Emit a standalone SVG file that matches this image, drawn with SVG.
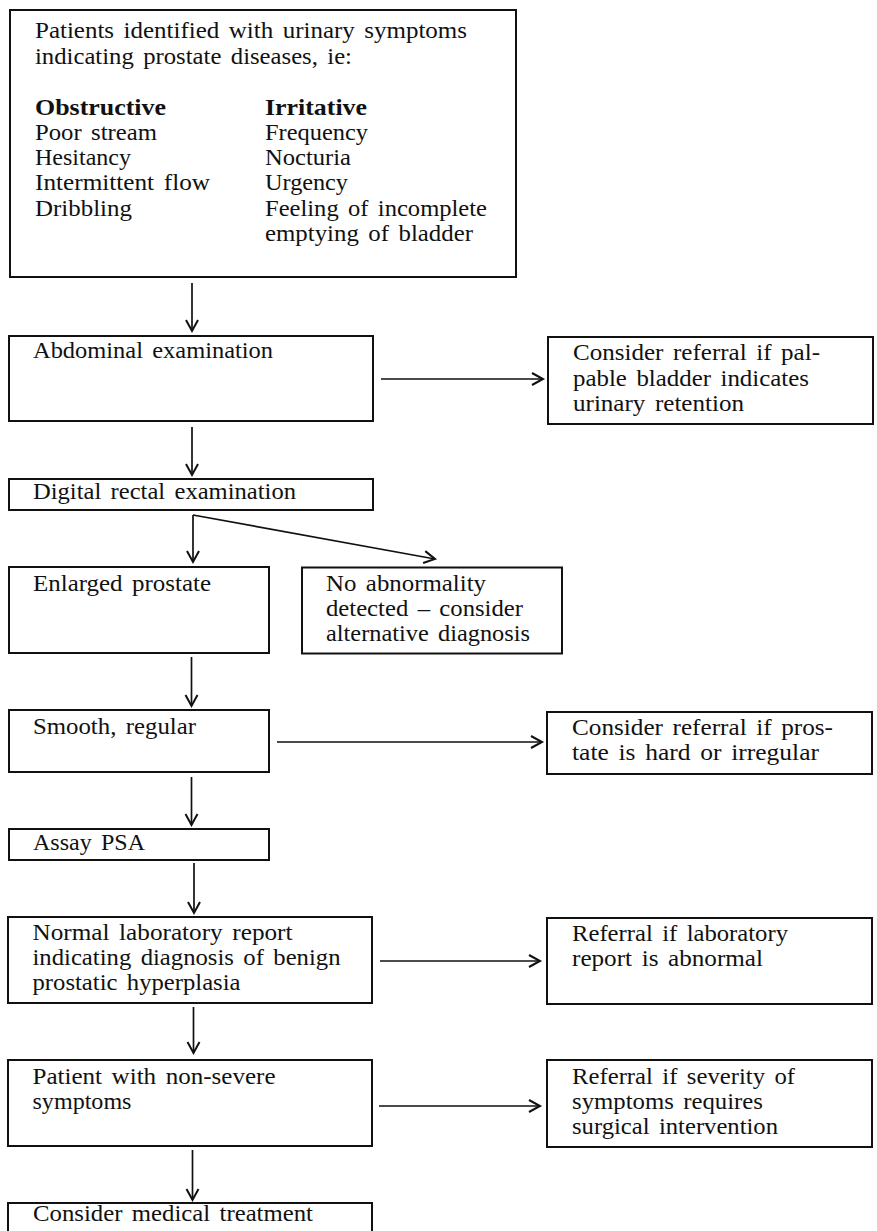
<svg xmlns="http://www.w3.org/2000/svg" width="877" height="1231" viewBox="0 0 877 1231">
<style>
.box{fill:#fff;stroke:#111;stroke-width:2}
.t{font-family:"Liberation Serif","Times New Roman",serif;font-size:23px;fill:#111;word-spacing:3px}
.b{font-weight:bold}
.c{fill:none;stroke:#111;stroke-width:1.7}
</style>
<defs>
<marker id="ah" markerUnits="userSpaceOnUse" markerWidth="16" markerHeight="16" refX="12" refY="7" orient="auto">
<path d="M1,1 L12,7 L1,13" fill="none" stroke="#111" stroke-width="2"/>
</marker>
</defs>
<rect width="877" height="1231" fill="#fff"/>
<g id="connectors">
<line class="c" x1="192" y1="283" x2="192" y2="331" marker-end="url(#ah)"/>
<line class="c" x1="381" y1="379" x2="543" y2="379" marker-end="url(#ah)"/>
<line class="c" x1="192" y1="427" x2="192" y2="475" marker-end="url(#ah)"/>
<line class="c" x1="193" y1="515" x2="193" y2="562" marker-end="url(#ah)"/>
<line class="c" x1="193" y1="515" x2="435" y2="559" marker-end="url(#ah)"/>
<line class="c" x1="191.5" y1="657" x2="191.5" y2="706" marker-end="url(#ah)"/>
<line class="c" x1="277" y1="742" x2="542" y2="742" marker-end="url(#ah)"/>
<line class="c" x1="191.5" y1="777" x2="191.5" y2="825" marker-end="url(#ah)"/>
<line class="c" x1="194" y1="863" x2="194" y2="913" marker-end="url(#ah)"/>
<line class="c" x1="380" y1="961" x2="540" y2="961" marker-end="url(#ah)"/>
<line class="c" x1="193.5" y1="1007" x2="193.5" y2="1053" marker-end="url(#ah)"/>
<line class="c" x1="379" y1="1106" x2="540" y2="1106" marker-end="url(#ah)"/>
<line class="c" x1="192.5" y1="1150" x2="192.5" y2="1200" marker-end="url(#ah)"/>
</g>
<g id="symptoms">
<rect class="box" x="10" y="10" width="506" height="267"/>
<text class="t" x="35" y="38" textLength="432" lengthAdjust="spacingAndGlyphs">Patients identified with urinary symptoms</text>
<text class="t" x="35" y="63.5" textLength="317" lengthAdjust="spacingAndGlyphs">indicating prostate diseases, ie:</text>
<text class="t b" x="35" y="114.5" textLength="131" lengthAdjust="spacingAndGlyphs">Obstructive</text>
<text class="t" x="35" y="139.5" textLength="122" lengthAdjust="spacingAndGlyphs">Poor stream</text>
<text class="t" x="35" y="164.5" textLength="96" lengthAdjust="spacingAndGlyphs">Hesitancy</text>
<text class="t" x="35" y="190" textLength="175" lengthAdjust="spacingAndGlyphs">Intermittent flow</text>
<text class="t" x="35" y="216" textLength="97" lengthAdjust="spacingAndGlyphs">Dribbling</text>
<text class="t b" x="265" y="114.5" textLength="102" lengthAdjust="spacingAndGlyphs">Irritative</text>
<text class="t" x="265" y="139.5" textLength="103" lengthAdjust="spacingAndGlyphs">Frequency</text>
<text class="t" x="265" y="164.5" textLength="86" lengthAdjust="spacingAndGlyphs">Nocturia</text>
<text class="t" x="265" y="190" textLength="83" lengthAdjust="spacingAndGlyphs">Urgency</text>
<text class="t" x="265" y="216" textLength="222" lengthAdjust="spacingAndGlyphs">Feeling of incomplete</text>
<text class="t" x="265" y="241" textLength="208" lengthAdjust="spacingAndGlyphs">emptying of bladder</text>
</g>
<g id="abdominal">
<rect class="box" x="9" y="336" width="364" height="85"/>
<text class="t" x="33" y="358" textLength="240" lengthAdjust="spacingAndGlyphs">Abdominal examination</text>
</g>
<g id="referral-bladder">
<rect class="box" x="548" y="337" width="325" height="87"/>
<text class="t" x="573" y="360" textLength="247" lengthAdjust="spacingAndGlyphs">Consider referral if pal-</text>
<text class="t" x="573" y="385.5" textLength="236" lengthAdjust="spacingAndGlyphs">pable bladder indicates</text>
<text class="t" x="573" y="411" textLength="171" lengthAdjust="spacingAndGlyphs">urinary retention</text>
</g>
<g id="dre">
<rect class="box" x="9" y="479" width="364" height="31"/>
<text class="t" x="33" y="499" textLength="263" lengthAdjust="spacingAndGlyphs">Digital rectal examination</text>
</g>
<g id="enlarged">
<rect class="box" x="9" y="567" width="260" height="86"/>
<text class="t" x="33" y="591" textLength="178" lengthAdjust="spacingAndGlyphs">Enlarged prostate</text>
</g>
<g id="no-abnormality">
<rect class="box" x="302" y="567.5" width="260" height="86"/>
<text class="t" x="326" y="591" textLength="160" lengthAdjust="spacingAndGlyphs">No abnormality</text>
<text class="t" x="326" y="615.5" textLength="197" lengthAdjust="spacingAndGlyphs">detected – consider</text>
<text class="t" x="326" y="641" textLength="204" lengthAdjust="spacingAndGlyphs">alternative diagnosis</text>
</g>
<g id="smooth">
<rect class="box" x="9" y="710" width="260" height="62"/>
<text class="t" x="33" y="733.5" textLength="163" lengthAdjust="spacingAndGlyphs">Smooth, regular</text>
</g>
<g id="referral-prostate">
<rect class="box" x="547" y="712" width="325" height="62"/>
<text class="t" x="572" y="735" textLength="261" lengthAdjust="spacingAndGlyphs">Consider referral if pros-</text>
<text class="t" x="572" y="760" textLength="247" lengthAdjust="spacingAndGlyphs">tate is hard or irregular</text>
</g>
<g id="psa">
<rect class="box" x="9" y="829" width="260" height="31"/>
<text class="t" x="33" y="850" textLength="112" lengthAdjust="spacingAndGlyphs">Assay PSA</text>
</g>
<g id="normal-report">
<rect class="box" x="8" y="917" width="364" height="86"/>
<text class="t" x="32.5" y="940" textLength="260" lengthAdjust="spacingAndGlyphs">Normal laboratory report</text>
<text class="t" x="32.5" y="965" textLength="308" lengthAdjust="spacingAndGlyphs">indicating diagnosis of benign</text>
<text class="t" x="32.5" y="990" textLength="208" lengthAdjust="spacingAndGlyphs">prostatic hyperplasia</text>
</g>
<g id="referral-lab">
<rect class="box" x="547" y="918" width="325" height="86"/>
<text class="t" x="572" y="941" textLength="216" lengthAdjust="spacingAndGlyphs">Referral if laboratory</text>
<text class="t" x="572" y="966" textLength="191" lengthAdjust="spacingAndGlyphs">report is abnormal</text>
</g>
<g id="non-severe">
<rect class="box" x="8" y="1060" width="364" height="86"/>
<text class="t" x="32.5" y="1083.5" textLength="243" lengthAdjust="spacingAndGlyphs">Patient with non-severe</text>
<text class="t" x="32.5" y="1108.5" textLength="99" lengthAdjust="spacingAndGlyphs">symptoms</text>
</g>
<g id="referral-surgery">
<rect class="box" x="547" y="1060" width="325" height="87"/>
<text class="t" x="572" y="1083.5" textLength="223" lengthAdjust="spacingAndGlyphs">Referral if severity of</text>
<text class="t" x="572" y="1108.5" textLength="191" lengthAdjust="spacingAndGlyphs">symptoms requires</text>
<text class="t" x="572" y="1134" textLength="206" lengthAdjust="spacingAndGlyphs">surgical intervention</text>
</g>
<g id="medical-treatment">
<rect class="box" x="8" y="1203" width="364" height="40"/>
<text class="t" x="33" y="1221" textLength="280" lengthAdjust="spacingAndGlyphs">Consider medical treatment</text>
</g>
</svg>
